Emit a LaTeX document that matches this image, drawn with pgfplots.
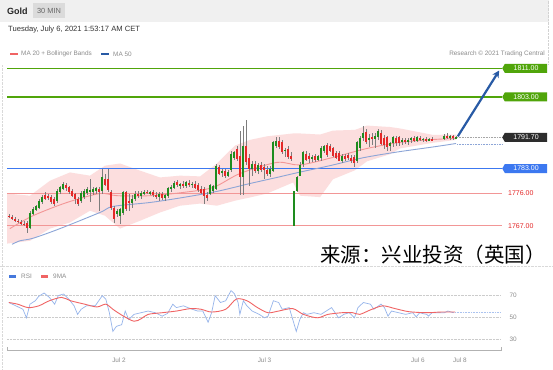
\documentclass[border=0pt]{standalone}
\usepackage{fontspec}
\setmainfont{Liberation Sans}
\newfontfamily\cjk{Noto Sans CJK SC}
\usepackage{pgfplots}
\usepackage{pgfplotstable}
\pgfplotsset{compat=1.18}
\usetikzlibrary{shapes.symbols,arrows.meta}

\definecolor{upc}{RGB}{30,140,30}
\definecolor{dnc}{RGB}{228,40,40}
\definecolor{wick}{RGB}{125,125,125}
\definecolor{lvgreen}{RGB}{80,165,10}
\definecolor{lvblue}{RGB}{60,120,240}
\definecolor{lvred}{RGB}{242,150,150}
\definecolor{bandc}{RGB}{252,222,222}
\definecolor{ma20c}{RGB}{243,150,150}
\definecolor{ma50c}{RGB}{140,165,215}
\definecolor{arrowc}{RGB}{40,90,165}
\definecolor{rsic}{RGB}{150,180,235}
\definecolor{rsimac}{RGB}{240,100,100}
\definecolor{rsileg}{RGB}{70,120,220}
\definecolor{tagdark}{RGB}{45,45,45}
\definecolor{txtgrey}{RGB}{140,140,140}

\pgfplotstableread{
i o h l c
1 1769.8 1770.2 1769.2 1769.5
2 1769.5 1769.9 1768.7 1769.0
3 1769.0 1769.4 1768.0 1768.4
4 1768.4 1768.9 1767.7 1768.0
5 1768.0 1768.5 1767.2 1767.6
6 1767.6 1768.2 1766.9 1767.3
7 1767.9 1768.3 1765.0 1766.3
8 1766.5 1771.0 1766.0 1770.7
9 1770.4 1772.2 1770.0 1771.8
10 1771.4 1772.8 1771.0 1772.5
11 1772.0 1774.4 1771.6 1774.0
12 1773.5 1775.5 1773.0 1775.0
13 1775.6 1776.3 1774.3 1774.6
14 1775.4 1776.0 1774.3 1774.7
15 1775.0 1775.5 1773.2 1773.6
16 1774.5 1775.0 1772.5 1773.0
17 1774.0 1777.2 1773.5 1776.8
18 1776.3 1778.2 1775.8 1777.7
19 1777.4 1779.3 1777.0 1778.8
20 1778.5 1779.0 1776.8 1777.6
21 1777.7 1778.2 1776.0 1776.3
22 1776.8 1777.3 1774.9 1775.4
23 1775.9 1776.3 1773.0 1774.4
24 1774.6 1775.0 1772.6 1773.2
25 1774.0 1776.6 1773.4 1776.2
26 1775.0 1777.2 1774.6 1776.8
27 1776.3 1777.8 1775.6 1777.4
28 1776.6 1780.0 1773.5 1776.9
29 1776.5 1777.8 1775.5 1777.3
30 1776.8 1777.9 1775.8 1777.5
31 1777.3 1777.8 1771.2 1776.5
32 1776.8 1783.0 1776.0 1780.5
33 1780.2 1781.5 1778.0 1778.3
34 1780.0 1783.0 1776.5 1777.0
35 1776.5 1777.0 1771.5 1772.0
36 1772.0 1772.5 1767.9 1769.0
37 1770.2 1771.8 1769.5 1771.2
38 1769.8 1772.0 1767.6 1771.8
39 1770.7 1776.8 1770.0 1776.3
40 1776.3 1776.8 1771.0 1771.8
41 1774.0 1775.8 1771.2 1773.5
42 1773.5 1775.5 1772.0 1774.5
43 1774.5 1776.6 1773.8 1776.0
44 1775.8 1776.8 1774.8 1775.3
45 1775.3 1776.7 1774.6 1776.2
46 1776.0 1777.0 1775.5 1776.5
47 1776.5 1777.1 1775.8 1776.2
48 1776.2 1776.8 1775.6 1776.4
49 1776.4 1776.9 1775.0 1775.6
50 1775.6 1776.4 1774.6 1775.0
51 1775.0 1776.5 1774.0 1776.0
52 1776.0 1776.5 1774.3 1774.8
53 1774.8 1776.0 1773.8 1775.5
54 1775.2 1777.9 1774.8 1777.5
55 1777.2 1778.3 1776.5 1777.8
56 1777.6 1779.4 1777.2 1779.0
57 1779.2 1779.7 1777.9 1778.3
58 1778.3 1779.0 1777.4 1778.7
59 1778.7 1779.4 1777.6 1778.0
60 1778.0 1779.5 1777.5 1779.2
61 1779.0 1779.8 1777.8 1778.3
62 1778.3 1779.3 1777.5 1778.8
63 1778.8 1779.5 1777.2 1777.7
64 1778.3 1778.9 1776.5 1777.0
65 1777.4 1778.0 1775.8 1776.3
66 1777.3 1777.8 1773.2 1775.4
67 1775.6 1776.3 1774.0 1774.8
68 1776.0 1778.8 1775.5 1778.3
69 1776.6 1778.5 1776.2 1778.0
70 1777.4 1784.3 1777.0 1783.8
71 1783.3 1784.0 1781.2 1781.6
72 1781.8 1782.8 1780.6 1782.2
73 1782.2 1782.8 1780.4 1781.0
74 1781.0 1782.6 1780.6 1782.0
75 1782.5 1787.8 1782.0 1787.2
76 1786.0 1788.0 1785.5 1787.7
77 1788.6 1789.3 1785.0 1785.8
78 1786.6 1793.6 1775.7 1780.5
79 1780.5 1795.0 1775.7 1789.4
80 1789.4 1796.5 1784.0 1784.7
81 1785.8 1787.0 1778.2 1783.0
82 1783.0 1785.0 1781.0 1784.2
83 1784.2 1785.0 1781.8 1782.2
84 1782.2 1784.6 1781.5 1784.0
85 1784.0 1784.8 1782.0 1782.6
86 1783.5 1784.3 1780.2 1782.5
87 1782.5 1783.6 1780.8 1781.6
88 1781.6 1783.6 1780.5 1783.0
89 1782.4 1790.8 1782.0 1790.3
90 1789.2 1791.7 1788.6 1790.8
91 1790.8 1791.7 1788.5 1789.0
92 1790.3 1791.0 1787.0 1787.5
93 1787.8 1788.8 1786.2 1788.3
94 1788.6 1789.2 1785.8 1786.1
95 1786.5 1787.5 1785.0 1785.6
96 1767.0 1776.8 1767.0 1776.6
97 1776.8 1781.0 1776.5 1780.5
98 1781.0 1784.7 1781.0 1784.0
99 1784.2 1788.0 1783.5 1787.5
100 1787.2 1787.8 1785.0 1785.4
101 1786.5 1787.3 1784.6 1785.6
102 1785.6 1786.8 1784.8 1786.2
103 1786.5 1787.0 1784.8 1785.3
104 1785.5 1786.8 1785.0 1786.4
105 1785.8 1789.2 1785.2 1788.8
106 1788.0 1789.7 1787.4 1789.3
107 1789.5 1790.0 1786.3 1786.8
108 1789.4 1790.0 1787.5 1788.0
109 1788.6 1789.1 1786.2 1786.6
110 1787.4 1788.0 1785.6 1786.0
111 1787.2 1787.8 1785.0 1785.2
112 1785.2 1787.0 1784.6 1786.5
113 1786.5 1787.2 1785.0 1785.6
114 1786.8 1787.4 1785.4 1786.0
115 1786.0 1786.8 1784.4 1785.0
116 1786.3 1786.9 1783.3 1784.5
117 1785.2 1790.8 1784.6 1790.3
118 1788.6 1792.0 1788.0 1791.4
119 1791.4 1795.0 1790.8 1792.8
120 1793.1 1794.0 1789.8 1790.3
121 1791.0 1792.6 1789.0 1791.6
122 1791.8 1793.0 1789.5 1791.3
123 1791.2 1792.8 1788.8 1792.0
124 1791.7 1794.0 1791.0 1793.6
125 1793.0 1793.8 1789.5 1790.0
126 1791.5 1792.3 1788.6 1789.6
127 1791.7 1792.2 1788.0 1788.9
128 1789.2 1790.5 1787.8 1790.0
129 1790.0 1792.2 1789.0 1791.7
130 1791.6 1792.0 1789.2 1790.2
131 1791.7 1792.2 1789.3 1790.0
132 1790.4 1791.5 1789.5 1791.0
133 1791.0 1791.6 1789.8 1790.4
134 1790.4 1791.4 1789.7 1790.9
135 1790.9 1791.8 1790.0 1791.5
136 1791.5 1792.0 1790.4 1790.8
137 1790.8 1792.0 1790.3 1791.7
138 1791.6 1792.0 1790.6 1791.0
139 1791.0 1791.6 1790.4 1791.3
140 1791.3 1791.8 1790.5 1790.9
141 1790.9 1791.6 1790.6 1791.2
142 1791.2 1791.7 1790.6 1791.0
146 1791.2 1792.6 1791.0 1792.2
147 1792.2 1792.8 1791.2 1791.5
148 1791.5 1792.4 1791.0 1792.0
149 1792.0 1792.4 1791.0 1791.4
150 1791.4 1792.0 1791.2 1791.7
}\candles

% Bollinger band outline: upper band left to right, then lower band right to left
\pgfplotstableread{
i p
0.33 1776.0
8 1775.4
14.7 1779.6
21.3 1781.9
28 1781.0
33 1783.8
38 1784.4
44.7 1782.4
51.3 1780.5
58 1781.0
64.7 1780.8
70.3 1784.4
76.3 1789.4
81.3 1791.0
87 1792.0
95.7 1792.8
98 1792.8
104.7 1792.5
109 1793.6
116.3 1793.8
120.3 1795.0
128 1794.6
131.3 1794.2
142.3 1792.4
150 1792.5
150 1791.0
142.3 1790.2
131.3 1788.6
128 1787.0
120.3 1785.0
116.3 1782.5
109 1780.0
104.7 1775.0
98 1775.4
95.7 1779.1
87 1776.0
81.3 1774.9
76.3 1774.0
70.3 1772.6
64.7 1773.2
58 1772.6
51.3 1770.7
44.7 1768.4
38 1766.2
33 1769.8
28 1771.2
21.3 1767.9
14.7 1766.2
8 1762.8
0.33 1762.0
}\bandpoly

\pgfplotstableread{
i ma
1.3 1766.2
9 1769.8
20.3 1773.5
31.3 1776.0
37 1775.4
48 1775.4
59 1776.3
69 1777.7
78 1781.6
90.3 1784.7
98 1784.0
109 1786.1
120.3 1788.6
131.3 1790.3
142.3 1791.1
150 1791.4
}\mattwenty

\pgfplotstableread{
i ma
2 1761.8
4.67 1762.8
9 1763.5
18 1766.2
31.3 1770.7
35.7 1772.4
48 1773.5
59 1774.9
70.3 1776.6
81.3 1778.8
90.3 1780.5
98 1782.0
108 1783.8
119 1786.0
130.3 1787.6
141.3 1788.9
147 1789.6
150 1790.0
}\mafifty

\pgfplotstableread{
i r
0.94 63.2
3.29 60.2
5.64 57.1
6.82 49.4
7.99 61.7
9.76 64.8
10.93 68.8
12.70 71.8
14.46 67.8
16.22 61.7
17.40 69.4
19.16 70.9
20.93 66.3
22.69 60.2
23.87 52.5
25.04 57.1
26.80 60.2
27.98 60.2
29.74 60.2
30.92 64.8
32.10 69.4
33.27 66.3
34.45 54.0
35.62 37.1
36.80 41.7
38.56 43.2
39.74 55.5
40.92 47.8
42.68 52.5
45.03 54.0
47.38 55.5
49.73 54.0
52.08 50.9
53.85 53.4
55.61 61.7
56.79 58.6
59.14 60.2
61.49 57.7
63.84 55.5
65.60 55.5
67.37 45.4
68.54 54.0
69.72 69.4
71.48 63.2
73.24 64.8
75.01 74.0
76.18 70.9
77.36 63.2
77.95 52.5
79.12 64.8
80.30 60.2
82.06 55.5
84.41 52.5
86.18 49.4
87.35 50.9
89.12 64.8
90.88 63.2
92.06 57.1
94.41 58.6
96.76 37.1
97.93 47.8
99.11 54.0
100.29 52.5
102.64 54.0
104.99 52.5
106.75 55.5
108.52 58.6
110.87 49.4
112.63 52.5
114.39 54.0
116.16 49.4
117.33 58.6
119.10 63.2
121.45 61.7
122.62 57.1
124.98 61.7
126.15 58.6
127.33 50.9
128.50 55.5
130.86 54.0
133.21 52.5
135.56 54.0
136.73 50.3
137.91 54.0
139.08 53.1
140.26 52.5
140.85 50.9
142.02 54.0
143.79 54.0
146.14 54.0
147.31 55.5
149.08 54.0
}\rsi

\pgfplotstableread{
i r
0.94 63.2
3.88 61.7
7.41 58.6
10.93 60.2
14.46 64.8
18.57 67.8
21.51 64.8
26.22 61.7
30.33 59.2
33.27 61.7
35.62 57.1
39.15 50.9
42.68 46.3
45.03 48.5
47.38 52.5
52.08 54.0
56.79 55.5
61.49 57.7
65.01 57.1
68.54 54.6
73.24 57.1
76.77 66.3
80.30 64.8
83.83 58.6
87.35 54.0
90.88 55.5
95.58 57.7
99.11 52.5
103.81 49.4
107.34 52.5
112.04 54.0
115.57 54.0
117.92 52.5
121.45 56.5
125.56 60.2
129.68 57.7
134.38 54.9
140.26 54.0
144.96 54.6
149.67 54.6
}\rsima

\tikzset{
  tag/.style={shape=signal, signal to=west, signal pointer angle=120, anchor=west,
    minimum width=45pt, minimum height=9pt, inner sep=0.6pt, text=white,
    font=\fontsize{7}{8}\selectfont},
  smalltxt/.style={anchor=west, inner sep=0pt, font=\fontsize{6.4}{7}\selectfont, text=txtgrey}
}

\begin{document}
\begin{tikzpicture}[x=1pt,y=1pt]
\fill[white] (0,0) rectangle (553,369);
% header
\fill[gray!12] (0,347) rectangle (549,369);
\draw[gray!35, densely dotted] (548.5,305) -- (548.5,369);
\draw[gray!30, densely dotted] (2,0) -- (2,305);
\fill[gray!28] (33,351) rectangle (65,366);
\node[font=\fontsize{7.4}{8}\selectfont, text=black!60] at (49,358.5) {30 MIN};
\node[anchor=west, inner sep=0pt, font=\bfseries\fontsize{9}{10}\selectfont, text=black!85] at (7,358) {Gold};
\node[anchor=west, inner sep=0pt, font=\fontsize{7.6}{9}\selectfont, text=black!80] at (8,339) {Tuesday, July 6, 2021 1:53:17 AM CET};
% legend
\fill[rsimac] (10,313.7) rectangle (18,316.3);
\node[smalltxt] at (21,315) {MA 20 + Bollinger Bands};
\fill[arrowc] (101,313.7) rectangle (109,316.3);
\node[smalltxt] at (113,315) {MA 50};
\node[smalltxt, anchor=east] at (545,315) {Research \textcopyright{} 2021 Trading Central};

% ---------------- price panel
\begin{axis}[
  at={(7pt,121.8pt)}, anchor=south west, scale only axis,
  width=498pt, height=186pt,
  xmin=0.333, xmax=166.33, ymin=1761, ymax=1813,
  axis line style={draw=none}, ticks=none, clip mode=individual,
]
\addplot[fill=bandc, draw=none, forget plot] table[x=i, y=p] \bandpoly -- cycle;

\addplot[lvgreen, line width=1.3pt] coordinates {(0.333,1811) (165.33,1811)};
\addplot[lvgreen, line width=1.3pt] coordinates {(0.333,1803) (165.33,1803)};
\addplot[lvblue, line width=0.9pt] coordinates {(0.333,1783) (165.33,1783)};
\addplot[lvred, line width=0.7pt] coordinates {(0.333,1776) (165.33,1776)};
\addplot[lvred, line width=0.7pt] coordinates {(0.333,1767) (165.33,1767)};
\addplot[gray!70, densely dotted, line width=0.6pt] coordinates {(150.3,1791.7) (165.33,1791.7)};
\addplot[ma50c, densely dotted, line width=0.6pt] coordinates {(150.3,1789.8) (165.33,1789.8)};

\addplot[ma20c, line width=0.9pt, smooth] table[x=i, y=ma] \mattwenty;
\addplot[ma50c, line width=0.9pt, smooth] table[x=i, y=ma] \mafifty;

% wicks
\addplot[draw=none, mark=none,
  error bars/.cd, y dir=both, y explicit, error mark=none,
  error bar style={draw=wick, line width=0.6pt}]
  table[x=i, y expr={(\thisrow{h}+\thisrow{l})/2},
        y error plus expr={(\thisrow{h}-\thisrow{l})/2},
        y error minus expr={(\thisrow{h}-\thisrow{l})/2}] \candles;
% up bodies
\addplot[draw=none, mark=none, restrict y to domain=1750:1830,
  error bars/.cd, y dir=both, y explicit, error mark=none,
  error bar style={draw=upc, line width=2.1pt}]
  table[x=i, y expr={(\thisrow{c}>=\thisrow{o}) ? ((\thisrow{o}+\thisrow{c})/2) : 0},
        y error plus expr={max(abs(\thisrow{c}-\thisrow{o})/2,0.15)},
        y error minus expr={max(abs(\thisrow{c}-\thisrow{o})/2,0.15)}] \candles;
% down bodies
\addplot[draw=none, mark=none, restrict y to domain=1750:1830,
  error bars/.cd, y dir=both, y explicit, error mark=none,
  error bar style={draw=dnc, line width=2.1pt}]
  table[x=i, y expr={(\thisrow{c}<\thisrow{o}) ? ((\thisrow{o}+\thisrow{c})/2) : 0},
        y error plus expr={max(abs(\thisrow{c}-\thisrow{o})/2,0.15)},
        y error minus expr={max(abs(\thisrow{c}-\thisrow{o})/2,0.15)}] \candles;

% arrow
\addplot[arrowc, line width=2.2pt, -{Stealth[length=7pt,width=7pt]}] coordinates {(150.6,1792.0) (164.4,1810.4)};

% tags
\node[tag, fill=lvgreen] at (axis cs:165.33,1811) {1811.00};
\node[tag, fill=lvgreen] at (axis cs:165.33,1803) {1803.00};
\node[tag, fill=tagdark] at (axis cs:165.33,1791.7) {1791.70};
\node[tag, fill=lvblue] at (axis cs:165.33,1783) {1783.00};
\node[anchor=west, inner sep=0pt, text=dnc, font=\fontsize{7}{8}\selectfont] at (axis cs:167.3,1776) {1776.00};
\node[anchor=west, inner sep=0pt, text=dnc, font=\fontsize{7}{8}\selectfont] at (axis cs:167.3,1767) {1767.00};
\end{axis}

% watermark text
\node[anchor=east, inner sep=0pt, font=\cjk\fontsize{20.5}{22}\selectfont] at (546,114) {来源：兴业投资（英国）};

% separator
\draw[gray!30, densely dotted] (0,103) -- (553,103);

% RSI legend
\fill[rsileg] (9,91) rectangle (16,93.6);
\node[smalltxt] at (21,92.3) {RSI};
\fill[rsimac] (41,91) rectangle (48,93.6);
\node[smalltxt] at (53,92.3) {9MA};

% ---------------- RSI panel
\begin{axis}[
  at={(7pt,18.3pt)}, anchor=south west, scale only axis,
  width=494pt, height=66.8pt,
  xmin=0.333, xmax=165, ymin=19.7, ymax=80,
  axis x line*=bottom, axis y line*=right,
  y axis line style={draw=none},
  x axis line style={draw=gray!60, line width=0.7pt, -},
  xtick={37.67,86.17,137.33,151.33},
  xticklabels={Jul 2,Jul 3,Jul 6,Jul 8},
  ytick={30,50,70},
  ymajorgrids, grid style={densely dotted, gray!40, line width=0.6pt},
  major tick length=0pt,
  tick label style={font=\fontsize{6.4}{7}\selectfont, text=txtgrey},
  yticklabel style={anchor=west, xshift=5pt},
  xticklabel style={yshift=-4pt},
  /pgf/number format/assume math mode=true,
  extra x ticks={0.333,165}, extra x tick labels={,},
  extra x tick style={major tick length=4pt, tick align=inside, tick style={draw=gray!60, line width=0.7pt}},
]
\addplot[rsic!80, densely dotted, line width=0.6pt] coordinates {(149.1,54.6) (165,54.6)};
\addplot[rsic, line width=0.7pt] table[x=i, y=r] \rsi;
\addplot[rsimac, line width=0.9pt, smooth] table[x=i, y=r] \rsima;
\end{axis}

\pgfresetboundingbox
\path[use as bounding box] (0,0) rectangle (553,369);
\end{tikzpicture}
\end{document}
